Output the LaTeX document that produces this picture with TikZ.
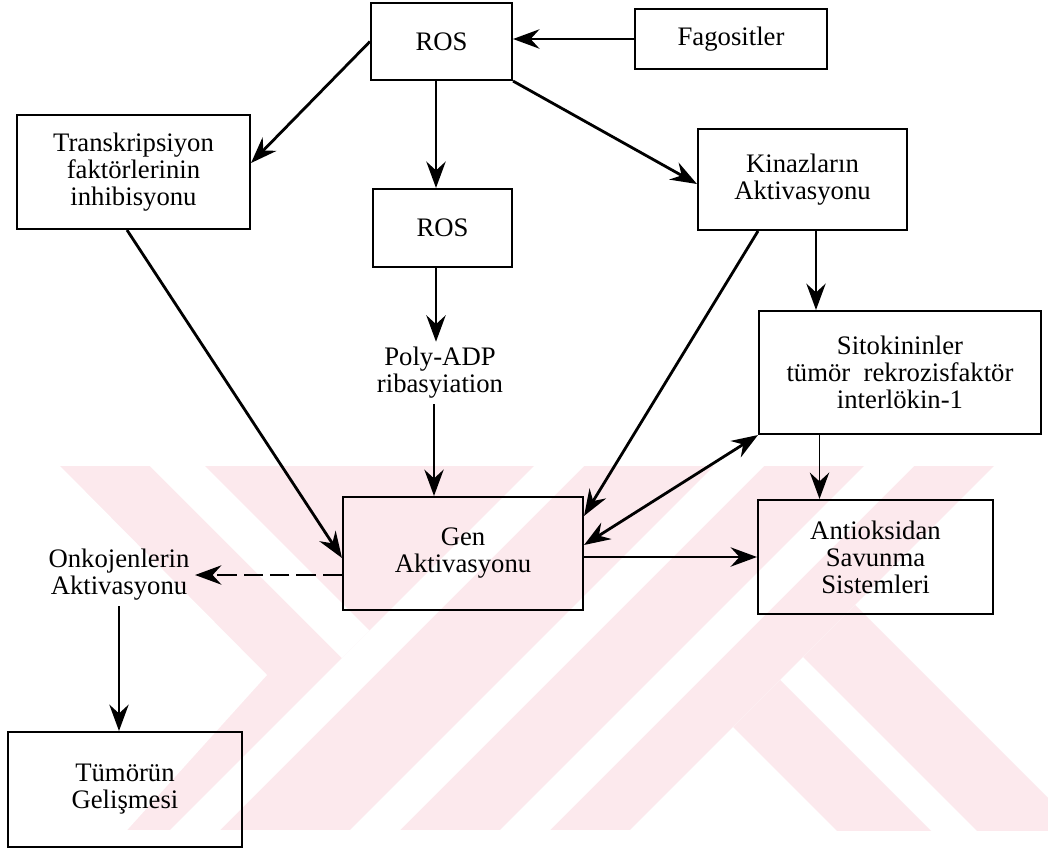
\documentclass[tikz,border=0pt]{standalone}
\usepackage{fontspec}
\setmainfont{Liberation Serif}
\usetikzlibrary{arrows.meta}
\definecolor{wmpink}{RGB}{252,233,237}
\begin{document}
\begin{tikzpicture}[x=0.02cm, y=-0.02cm,
    every node/.style={font=\fontsize{15.2}{15.4}\selectfont, align=center},
    box/.style={draw, rectangle, line width=1.2pt, inner sep=2pt},
    lbl/.style={inner sep=3pt},
    arr/.style={-{Stealth[length=15pt, width=11pt, inset=5pt]}, line width=1.6pt},
    thinarr/.style={arr, line width=1.1pt},
    dasharr/.style={thinarr, dash pattern=on 11pt off 4pt},
    dblarr/.style={{Stealth[length=15pt, width=11pt, inset=5pt]}-{Stealth[length=15pt, width=11pt, inset=5pt]}, line width=1.6pt}]
    \useasboundingbox (0,0) rectangle (1048,852);

    % watermark
    \begin{scope}
        \clip (60,466) rectangle (1048,830);
        \fill[wmpink] (60,466) rectangle (1048,830);
        \fill[white] (0,406) -- (60,466) -- (267,675) -- (64,900) -- (0,900) -- cycle;
        \fill[white] (84,400) -- (139,400) -- (369.5,630.5) -- (342,658) -- cycle;
        \foreach \a/\b in {1000/1050, 1180/1230, 1330/1380}
            \fill[white] (\a-400,400) -- (\b-400,400) -- (\b-900,900) -- (\a-900,900) -- cycle;
        \fill[white] (1060,400) -- (1200,400) -- (1200,900) -- (560,900) -- cycle;
        \fill[wmpink] (733,727) -- (780,680) -- (1200,1100) -- (1200,1194) -- cycle;
        \fill[wmpink] (803,657) -- (855,605) -- (1200,950) -- (1200,1054) -- cycle;
    \end{scope}

    \node[box, minimum width=2.82cm, minimum height=1.54cm] (ros1) at (441.5,41.5) {ROS};
    \node[box, minimum width=3.84cm, minimum height=1.2cm] (fago) at (731,39) {Fagositler};
    \node[box, minimum width=4.66cm, minimum height=2.28cm] (trans) at (133.5,172) {Transkripsiyon\\faktörlerinin\\inhibisyonu};
    \node[box, minimum width=2.78cm, minimum height=1.56cm] (ros2) at (442.5,228) {ROS};
    \node[box, minimum width=4.18cm, minimum height=2.02cm] (kinaz) at (802.5,179.5) {Kinazların\\Aktivasyonu};
    \node[lbl] (poly) at (440,373) {Poly-ADP\\ribasyiation};
    \node[box, minimum width=4.8cm, minimum height=2.26cm] (gen) at (463,553.5) {Gen\\Aktivasyonu};
    \node[box, minimum width=5.64cm, minimum height=2.46cm] (sito) at (900,372.5) {Sitokininler\\tümör~ rekrozisfaktör\\interlökin-1};
    \node[box, minimum width=4.7cm, minimum height=2.28cm] (anti) at (875.5,557) {Antioksidan\\Savunma\\Sistemleri};
    \node[lbl] (onko) at (119,575) {Onkojenlerin\\Aktivasyonu};
    \node[box, minimum width=4.68cm, minimum height=2.3cm] (tumor) at (125,789.5) {Tümörün\\Gelişmesi};

    \draw[arr] (fago.west) -- (fago.west -| ros1.east);
    \draw[arr] (ros1.west) -- ([yshift=0.18cm]trans.east);
    \draw[arr] ([xshift=-0.11cm]ros1.south) -- ([xshift=-0.11cm]ros1.south |- ros2.north);
    \draw[arr] (ros1.south east) -- ([yshift=-0.09cm]kinaz.west);
    \draw[arr] ([xshift=-0.13cm]ros2.south) -- ([xshift=-0.13cm]ros2.south |- poly.north);
    \draw[thinarr] ([xshift=-0.12cm]poly.south) -- ([xshift=-0.12cm]poly.south |- gen.north);
    \draw[arr] ([xshift=-0.13cm]trans.south) -- ([yshift=-0.09cm]gen.west);
    \draw[arr] ([xshift=-0.89cm]kinaz.south) -- ([yshift=-0.4cm]gen.north east);
    \draw[thinarr] ([xshift=0.27cm]kinaz.south) -- ([xshift=0.27cm]kinaz.south |- sito.north);
    \draw[dblarr] ([yshift=0.17cm]gen.east) -- (sito.south west);
    \draw[thinarr] ([xshift=-1.12cm]anti.north |- sito.south) -- ([xshift=-1.12cm]anti.north);
    \draw[thinarr] (anti.west -| gen.east) -- (anti.west);
    \draw[dasharr] (onko.east -| gen.west) -- (onko.east);
    \draw[thinarr] (onko.south) -- (onko.south |- tumor.north);
\end{tikzpicture}
\end{document}
